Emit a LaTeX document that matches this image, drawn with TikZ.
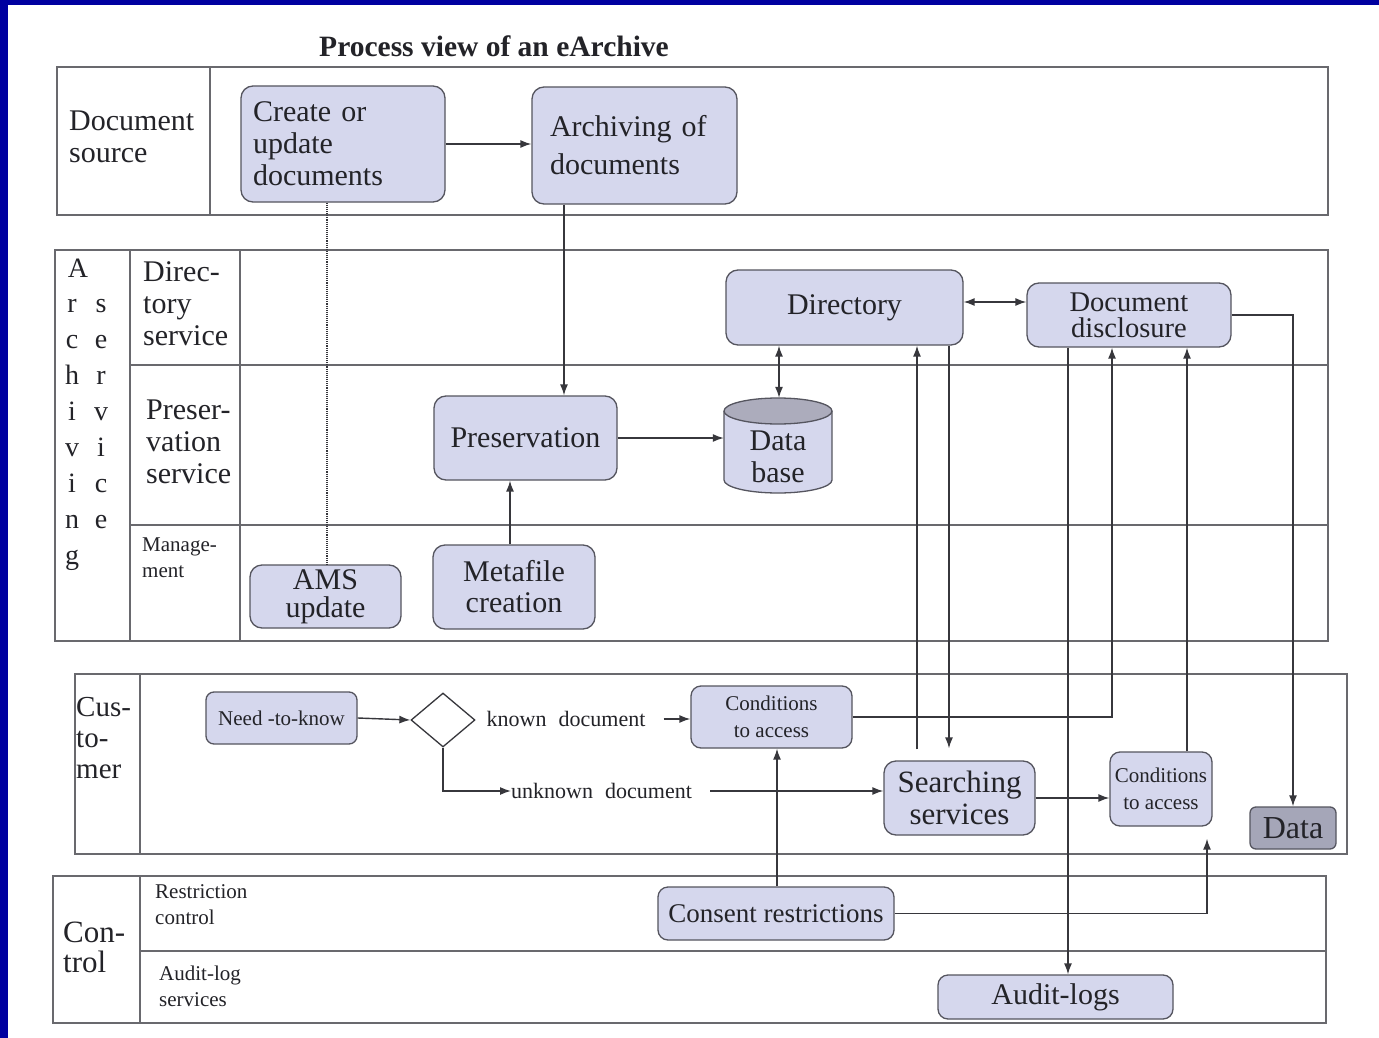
\documentclass[tikz,border=0pt]{standalone}
\usepackage{fontspec}
\setmainfont{Liberation Serif}
\usetikzlibrary{arrows.meta,shapes.geometric}
\definecolor{bluebg}{RGB}{0,0,160}
\definecolor{boxfill}{RGB}{213,215,237}
\definecolor{boxdraw}{RGB}{85,85,95}
\definecolor{datafill}{RGB}{165,166,184}
\definecolor{topfill}{RGB}{172,172,188}
\definecolor{lanec}{RGB}{105,105,110}
\definecolor{conn}{RGB}{55,55,60}
\definecolor{txt}{RGB}{35,35,40}
\newcommand{\bigtxt}{\fontsize{30}{32}\selectfont}
\newcommand{\midtxt}{\fontsize{21}{27}\selectfont}
\newcommand{\lbltxt}{\fontsize{21}{26}\selectfont}
\tikzset{
  box/.style={draw=boxdraw, fill=boxfill, rounded corners=12pt, line width=1.3pt,
    inner sep=0pt, align=center, text=txt, font=\bigtxt},
  lane/.style={draw=lanec, line width=1.4pt},
  arr/.style={draw=conn, line width=1.4pt, -{Latex[length=11pt,width=8pt]}},
  darr/.style={draw=conn, line width=1.4pt, {Latex[length=11pt,width=8pt]}-{Latex[length=11pt,width=8pt]}},
  lbl/.style={inner sep=0pt, align=left, anchor=west, text=txt},
  plain/.style={inner sep=0pt, text=txt}
}
\begin{document}
\begin{tikzpicture}[x=1pt,y=-1pt]
\useasboundingbox (0,0) rectangle (1379,1038);
\fill[bluebg] (0,0) rectangle (1379,1038);
\fill[white] (8,5) rectangle (1379,1038);

% title
\node[plain, font=\fontsize{29.5}{32}\selectfont\bfseries] (title) at (494,46) {Process view of an eArchive};

% lanes
\draw[lane] (57,67) rectangle (1328,215);
\draw[lane] (210,67) -- (210,215);
\draw[lane] (55,250) rectangle (1328,641);
\draw[lane] (130,250) -- (130,641);
\draw[lane] (240,250) -- (240,641);
\draw[lane] (130,365) -- (1328,365);
\draw[lane] (130,525) -- (1328,525);
\draw[lane] (75,674) rectangle (1347,854);
\draw[lane] (140,674) -- (140,854);
\draw[lane] (53,876) rectangle (1326,1023);
\draw[lane] (140,876) -- (140,1023);
\draw[lane] (140,951) -- (1326,951);

% lane labels
\node[lbl, font=\bigtxt] (lsrc) at (69,136.5) {Document\\source};
\node[plain, anchor=base, font=\fontsize{28}{30}\selectfont] (arch0) at (78,277) {A};
\foreach \l [count=\i from 1] in {r,c,h,i,v,i,n,g}
  \node[plain, anchor=base, font=\fontsize{28}{30}\selectfont] (arch\i) at (72,277+35.9*\i) {\l};
\foreach \l [count=\i from 1] in {s,e,r,v,i,c,e}
  \node[plain, anchor=base, font=\fontsize{28}{30}\selectfont] (serv\i) at (101,277+35.9*\i) {\l};
\node[lbl, font=\bigtxt] (ldir) at (143,304) {Direc-\\tory\\service};
\node[lbl, font=\bigtxt] (lpres) at (146,441.5) {Preser-\\vation\\service};
\node[lbl, font=\lbltxt] (lman) at (142,558) {Manage-\\ment};
\node[lbl, font=\fontsize{29}{31}\selectfont] (lcus) at (76,738) {Cus-\\to-\\mer};
\node[lbl, font=\fontsize{31}{30}\selectfont] (lcon) at (63,947) {Con-\\trol};
\node[lbl, font=\lbltxt] (lres) at (155,905) {Restriction\\control};
\node[lbl, font=\lbltxt] (laud) at (159,986) {Audit-log\\services};

% boxes
\node[box, align=left, minimum height=116pt, text width=180pt, inner xsep=12pt] (create) at (343,144) {Create or\\update\\documents};
\node[box, align=left, minimum height=117pt, text width=169pt, inner xsep=18pt, font=\fontsize{30}{38}\selectfont] (archiving) at (634.5,145.5) {Archiving of\\documents};
\node[box, minimum width=237pt, minimum height=75pt] (directory) at (844.5,307.5) {Directory};
\node[box, minimum width=204pt, minimum height=64pt, font=\fontsize{28.5}{26}\selectfont] (disclosure) at (1129,315) {Document\\disclosure};
\node[box, minimum width=183pt, minimum height=84pt] (preservation) at (525.5,438) {Preservation};
\node[box, minimum width=151pt, minimum height=63pt, font=\fontsize{30}{28}\selectfont] (ams) at (325.5,596.5) {AMS\\update};
\node[box, minimum width=162pt, minimum height=84pt, font=\fontsize{30}{31}\selectfont] (metafile) at (514,587) {Metafile\\creation};

% database cylinder
\node[inner sep=0pt, minimum width=108pt, minimum height=95pt] (db) at (778,445.5) {};
\fill[boxfill] (724,411) rectangle (832,480);
\fill[boxfill] (778,480) ellipse [x radius=54, y radius=13];
\draw[boxdraw, line width=1.3pt] (724,411) -- (724,480) arc[start angle=180, end angle=0, x radius=54, y radius=13] -- (832,411);
\filldraw[fill=topfill, draw=boxdraw, line width=1.3pt] (778,411) ellipse [x radius=54, y radius=13];
\node[plain, align=center, font=\bigtxt] (dbtext) at (778,457) {Data\\base};

% customer lane
\node[box, minimum width=151pt, minimum height=52pt, rounded corners=8pt, font=\fontsize{21}{24}\selectfont] (need) at (281.5,718) {Need -to-know};
\node[diamond, draw=conn, line width=1.3pt, fill=white, minimum width=64pt, minimum height=54pt, inner sep=0pt] (dia) at (443,720) {};
\node[plain, font=\fontsize{22}{24}\selectfont] (known) at (566,719) {known\hspace{0.3em} document};
\node[plain, font=\fontsize{22}{24}\selectfont, anchor=west] (unknown) at (511,791) {unknown\hspace{0.3em} document};
\node[box, minimum width=161pt, minimum height=62pt, rounded corners=10pt, font=\midtxt] (cond1) at (771.5,717) {Conditions\\to access};
\node[box, minimum width=151pt, minimum height=74pt, font=\fontsize{31}{32}\selectfont] (searching) at (959.5,798) {Searching\\services};
\node[box, minimum width=102pt, minimum height=74pt, rounded corners=10pt, font=\midtxt] (cond2) at (1161,789) {Conditions\\to access};
\node[box, fill=datafill, minimum width=86pt, minimum height=42pt, rounded corners=6pt, font=\fontsize{32}{34}\selectfont] (data) at (1293,828) {Data};

% control lane
\node[box, minimum width=236pt, minimum height=53pt, rounded corners=10pt, font=\fontsize{27}{30}\selectfont] (consent) at (776,913.5) {Consent restrictions};
\node[box, minimum width=235pt, minimum height=44pt, rounded corners=10pt] (audit) at (1055.5,997) {Audit-logs};

% helper coordinates for x positions
\coordinate (x327) at (327,0);
\coordinate (x564) at (564,0);
\coordinate (x510) at (510,0);
\coordinate (x779) at (779,0);
\coordinate (y302) at (0,302);
\coordinate (x777) at (777,0);
\coordinate (x1207) at (1207,0);
\coordinate (x1112) at (1112,0);
\coordinate (x917) at (917,0);
\coordinate (x949) at (949,0);
\coordinate (x1068) at (1068,0);
\coordinate (x1187) at (1187,0);

% connectors
\draw[arr] (create.east) -- (archiving.west |- create.east);
\draw[draw=conn, line width=1.1pt, densely dotted] (create.south -| x327) -- (ams.north -| x327);
\draw[arr] (archiving.south -| x564) -- (preservation.north -| x564);
\draw[arr] (metafile.north -| x510) -- (preservation.south -| x510);
\draw[arr] (preservation.east) -- (db.west |- preservation.east);
\draw[darr] (directory.south -| x779) -- (db.north -| x779);
\draw[darr] (directory.east |- y302) -- (disclosure.west |- y302);
\draw[arr] (need.east) -- (dia.west);
\draw[arr] ([xshift=18pt]known.east) -- (cond1.west |- known.east);
\draw[arr] (dia.south) |- (unknown.west);
\draw[arr] ([xshift=18pt]unknown.east) -- (searching.west |- unknown.east);
\draw[arr] (searching.east) -- (cond2.west |- searching.east);
\draw[arr] (consent.north -| x777) -- (cond1.south -| x777);
\draw[arr, shorten >=12pt] (consent.east) -| (cond2.south -| x1207);
\draw[arr] (cond1.east) -| (disclosure.south -| x1112);
\draw[arr, shorten <=11pt] (searching.north -| x917) -- (directory.south -| x917);
\draw[arr, shorten >=12pt] (directory.south -| x949) -- (searching.north -| x949);
\draw[arr] (disclosure.south -| x1068) -- (audit.north -| x1068);
\draw[arr] (cond2.north -| x1187) -- (disclosure.south -| x1187);
\draw[arr] (disclosure.east) -| (data.north);
\end{tikzpicture}
\end{document}
